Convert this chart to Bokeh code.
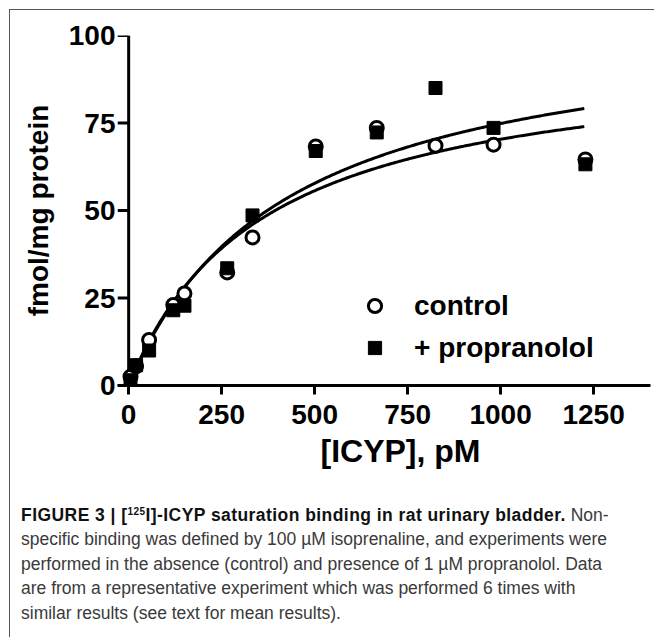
import numpy as np
from bokeh.plotting import figure
from bokeh.models import (Range1d, FixedTicker, Legend, LegendItem, Title, Div,
                          ColumnDataSource)
from bokeh.layouts import column
from bokeh.embed import file_html
from bokeh.resources import INLINE

# ---- data ----
icyp_pm = [5, 20, 55, 120, 150, 265, 333, 503, 667, 825, 981, 1228]
control = [2.5, 5.5, 13.0, 23.0, 26.3, 32.3, 42.3, 68.3, 73.6, 68.5, 68.8, 64.6]
propranolol = [1.5, 5.8, 10.0, 21.5, 22.8, 33.5, 48.6, 67.0, 72.3, 85.0, 73.6, 63.2]

# one-site fits (Bmax, Kd) estimated from the drawn curves
ctrl_bmax, ctrl_kd = 95.7, 360.0
prop_bmax, prop_kd = 106.2, 419.0
fit_x_max = 1225

x_ticks = [0, 250, 500, 750, 1000, 1250]
y_ticks = [0, 25, 50, 75, 100]

X_MIN, X_MAX = -30, 1403
Y_MIN, Y_MAX = 0, 100

FONT = "Liberation Sans"

p = figure(width=644, height=470, output_backend="svg", toolbar_location=None,
           x_range=Range1d(X_MIN, X_MAX), y_range=Range1d(Y_MIN, Y_MAX),
           min_border_left=107, min_border_right=4, min_border_top=25,
           min_border_bottom=95)
p.grid.visible = False
p.outline_line_color = None
p.background_fill_color = "white"
p.border_fill_color = "white"

# y axis drawn at x = 0 (axis line + outward ticks)
p.segment(x0=[0], y0=[Y_MIN], x1=[0], y1=[Y_MAX], line_color="black", line_width=3)
p.segment(x0=[X_MIN] * len(y_ticks), y0=y_ticks, x1=[0] * len(y_ticks), y1=y_ticks,
          line_color="black", line_width=3)

# fitted curves
xf = np.linspace(0, fit_x_max, 300)
p.line(xf, ctrl_bmax * xf / (ctrl_kd + xf), line_color="black", line_width=3)
p.line(xf, prop_bmax * xf / (prop_kd + xf), line_color="black", line_width=3)

src = ColumnDataSource(dict(x=icyp_pm, c=control, pr=propranolol))
r_ctrl = p.scatter("x", "c", source=src, marker="circle", size=13,
                   fill_color="white", line_color="black", line_width=3)
r_prop = p.scatter("x", "pr", source=src, marker="square", size=13,
                   fill_color="black", line_color="black", line_width=1)

for ax in (p.xaxis[0], p.yaxis[0]):
    ax.minor_tick_line_color = None
    ax.major_label_text_font = FONT
    ax.major_label_text_font_size = "28px"
    ax.major_label_text_font_style = "bold"
    ax.major_label_text_color = "black"

xa = p.xaxis[0]
xa.ticker = FixedTicker(ticks=x_ticks)
xa.axis_line_width = 3
xa.axis_line_color = "black"
xa.major_tick_line_width = 3
xa.major_tick_line_color = "black"
xa.major_tick_in = 0
xa.major_tick_out = 9
xa.major_label_standoff = 10

ya = p.yaxis[0]
ya.ticker = FixedTicker(ticks=y_ticks)
ya.axis_line_color = None
ya.major_tick_line_color = None
ya.major_tick_in = 0
ya.major_tick_out = 0
ya.major_label_standoff = 2
ya.axis_label = "fmol/mg protein"
ya.axis_label_text_font = FONT
ya.axis_label_text_font_size = "28px"
ya.axis_label_text_font_style = "bold"
ya.axis_label_text_color = "black"
ya.axis_label_standoff = 12

xtitle = Title(text="[ICYP], pM", align="left", offset=203, standoff=8,
               text_font=FONT, text_font_size="32px", text_font_style="bold",
               text_color="black")
p.add_layout(xtitle, "below")

legend = Legend(items=[LegendItem(label="control", renderers=[r_ctrl]),
                       LegendItem(label="+ propranolol", renderers=[r_prop])],
                location=(241, 21), padding=0, margin=0, spacing=9,
                glyph_width=33, glyph_height=33, label_standoff=23,
                label_text_font=FONT, label_text_font_size="28px",
                label_text_font_style="bold", label_text_color="black",
                border_line_color=None, background_fill_alpha=0)
p.add_layout(legend, "center")

caption_html = (
    '<div style="font-family: \'Liberation Sans\', Arial, sans-serif;'
    ' font-size: 17.5px; line-height: 24.4px; color: #3a3a3a; white-space: nowrap;'
    ' margin: 18px 0 0 6px;">'
    '<b style="color:#111; letter-spacing:0.44px;">FIGURE 3 | [<sup style="font-size:10px; vertical-align:6px; line-height:0;">125</sup>I]-ICYP saturation binding in rat urinary bladder.</b> Non-<br>'
    'specific binding was defined by 100 µM isoprenaline, and experiments were<br>'
    'performed in the absence (control) and presence of 1 µM propranolol. Data<br>'
    'are from a representative experiment which was performed 6 times with<br>'
    'similar results (see text for mean results).'
    '</div>'
)
caption = Div(text=caption_html, width=644, height=157)

layout = column(p, caption, spacing=0, margin=(9, 0, 0, 9),
                styles={"border-left": "1px solid #555", "border-top": "1px solid #555"})

open("out.html", "w").write(file_html(layout, INLINE))
